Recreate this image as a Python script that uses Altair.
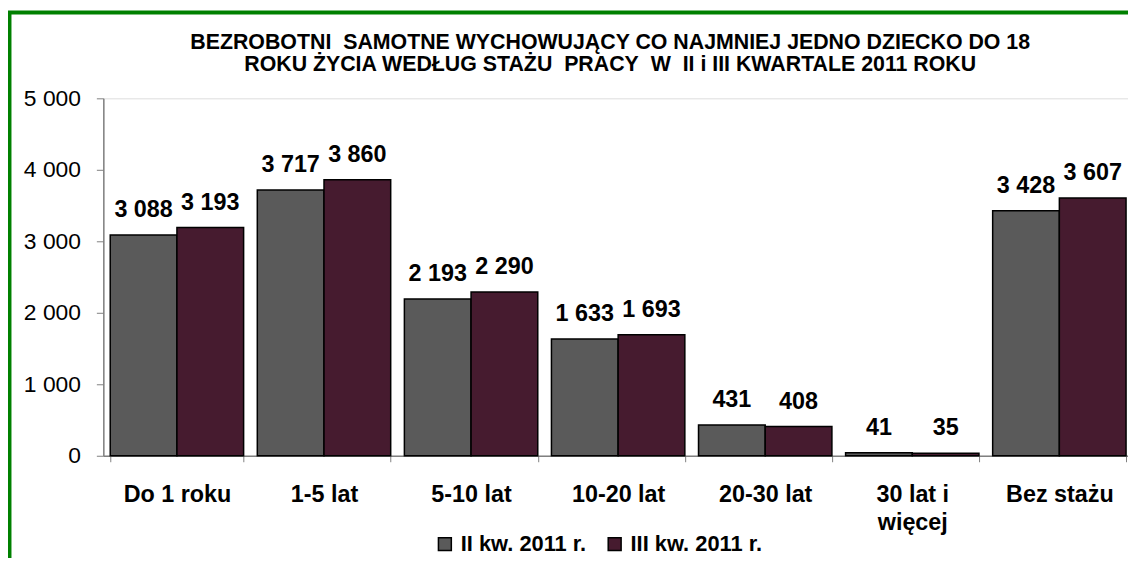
import altair as alt
import pandas as pd

categories = ["Do 1 roku", "1-5 lat", "5-10 lat", "10-20 lat", "20-30 lat", "30 lat i więcej", "Bez stażu"]
series = ["II kw. 2011 r.", "III kw. 2011 r."]
values_q2 = [3088, 3717, 2193, 1633, 431, 41, 3428]
values_q3 = [3193, 3860, 2290, 1693, 408, 35, 3607]
colors = ["#5a5a5a", "#461b2f"]
y_ticks = [0, 1000, 2000, 3000, 4000, 5000]
title_lines = [
    "BEZROBOTNI\u00a0 SAMOTNE WYCHOWUJĄCY CO NAJMNIEJ JEDNO DZIECKO DO 18",
    "ROKU ŻYCIA WEDŁUG STAŻU\u00a0 PRACY\u00a0 W\u00a0 II i III KWARTALE 2011 ROKU",
]

rows = []
for s, vals in zip(series, [values_q2, values_q3]):
    for c, v in zip(categories, vals):
        rows.append({"kategoria": c, "okres": s, "wartosc": v,
                     "etykieta": f"{v:,}".replace(",", " ")})
df = pd.DataFrame(rows)

FONT = "Liberation Sans"

x_enc = alt.X(
    "kategoria:N", sort=categories, title=None,
    scale=alt.Scale(paddingInner=0.093, paddingOuter=0.047, range=[0, 1037]),
    axis=alt.Axis(
        labelAngle=0, labelFont=FONT, labelFontSize=23.5, labelFontWeight="bold",
        labelColor="black", labelPadding=21, labelBaseline="top", labelLineHeight=28,
        tickBand="extent", ticks=True, tickSize=6, tickColor="#808080",
        domainColor="#808080", domainWidth=1.5,
        labelExpr="datum.value == '30 lat i więcej' ? ['30 lat i', 'więcej'] : datum.label",
    ),
)
xoff = alt.XOffset("okres:N", sort=series)

y_enc = alt.Y(
    "wartosc:Q", title=None,
    scale=alt.Scale(domain=[0, 5000], nice=False),
    axis=alt.Axis(
        values=y_ticks, grid=False, labelFont=FONT, labelFontSize=23, labelColor="black",
        labelPadding=16, tickSize=7, tickColor="#808080", domainColor="#808080",
        domainWidth=1.5,
        labelExpr="replace(format(datum.value, ','), ',', ' ')",
    ),
)

bars = alt.Chart(df).mark_bar(stroke="black", strokeWidth=1.5).encode(
    x=x_enc, xOffset=xoff, y=y_enc,
    color=alt.Color(
        "okres:N", sort=series,
        scale=alt.Scale(domain=series, range=colors),
        legend=alt.Legend(
            title=None, orient="none", legendX=333, legendY=438, direction="horizontal",
            symbolType="square", symbolSize=169, symbolStrokeColor="black",
            symbolStrokeWidth=1.5, labelFont=FONT, labelFontSize=22,
            labelFontWeight="bold", labelColor="black", labelOffset=5, columnPadding=17,
        ),
    ),
)

labels = alt.Chart(df).mark_text(
    font=FONT, fontSize=23.5, fontWeight="bold", color="black",
    baseline="alphabetic", dy=-18,
).encode(x=x_enc, xOffset=xoff, y=y_enc, text="etykieta:N")

frame = alt.Chart(pd.DataFrame({"f": [0]})).mark_rect(
    filled=False, stroke="#008000", strokeWidth=4
).encode(
    x=alt.value(-94.5), x2=alt.value(1200), y=alt.value(-86.5), y2=alt.value(600)
)

chart = alt.layer(bars, labels, frame).properties(
    width=1032, height=360,
    title=alt.TitleParams(
        title_lines, font=FONT, fontSize=21.5, fontWeight="bold", color="black",
        lineHeight=22, anchor="middle", frame="group", baseline="alphabetic",
        dx=-5.5, dy=82, offset=0,
    ),
    autosize=alt.AutoSizeParams(type="none"),
    padding={"left": 96, "top": 89, "right": 0, "bottom": 101},
).configure_view(stroke=None).configure(background="white")

chart.save("out.html", embed_options={"renderer": "svg", "actions": False})
